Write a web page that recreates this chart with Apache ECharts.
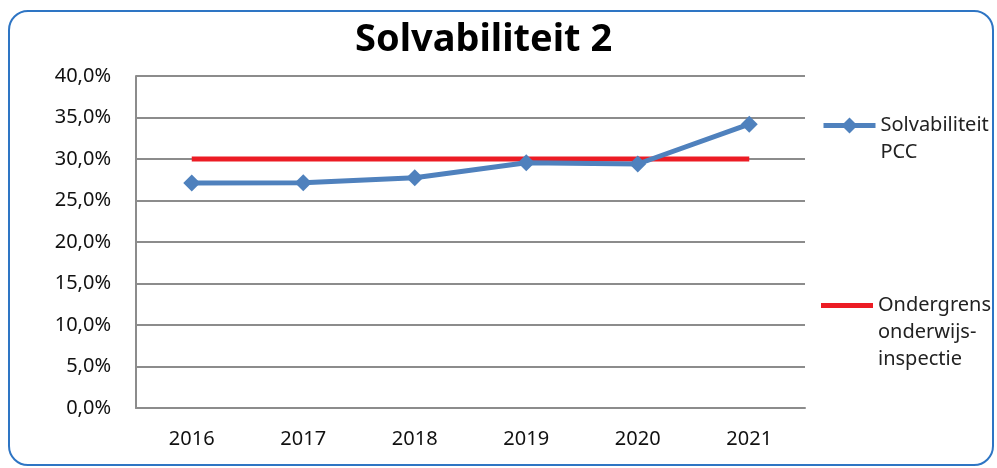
<!DOCTYPE html>
<html>
<head>
<meta charset="utf-8">
<script src="https://cdn.jsdelivr.net/npm/echarts@6/dist/echarts.min.js"></script>
<style>
  html, body { margin: 0; padding: 0; background: #fff; }
  #main { position: absolute; left: 0; top: 0; width: 997px; height: 468px; }
  #frame {
    position: absolute; left: 8px; top: 10px; width: 982px; height: 452px;
    border: 2px solid #2E75C4; border-radius: 20px; pointer-events: none;
  }
</style>
</head>
<body>
<div id="main"></div>
<div id="frame"></div>
<script>
// jaren op de x-as
const years = ['2016', '2017', '2018', '2019', '2020', '2021']
// solvabiliteit PCC (in %)
const solvabiliteit = [27.1, 27.15, 27.75, 29.55, 29.4, 34.2]
// ondergrens onderwijsinspectie (in %)
const ondergrens = [30, 30, 30, 30, 30, 30]
// labels van de legenda (regels)
const legendLabels = {
  'Solvabiliteit PCC': ['Solvabiliteit', 'PCC'],
  'Ondergrens onderwijsinspectie': ['Ondergrens', 'onderwijs-', 'inspectie']
}

const font = "'Noto Sans', sans-serif"
const myChart = echarts.init(document.getElementById('main'))

// lege regels ervoor zodat de eerste regel naast het icoon staat
const legendFormatter = name => {
  const lines = legendLabels[name]
  return new Array(lines.length - 1).fill('').concat(lines).join('\n')
}

const legendBase = {
  orient: 'vertical',
  left: 816,
  itemWidth: 52,
  itemGap: 4,
  formatter: legendFormatter,
  textStyle: { fontFamily: font, fontSize: 20, color: '#222', lineHeight: 27 }
}

const option = {
  animation: false,
  title: {
    text: 'Solvabiliteit 2',
    left: 350,
    top: 16,
    textStyle: { fontFamily: font, fontSize: 38, fontWeight: 'bold', color: '#000' }
  },
  legend: [
    Object.assign({}, legendBase, {
      top: 124 - 44,
      itemHeight: 20,
      data: ['Solvabiliteit PCC'],
      lineStyle: { width: 5 }
    }),
    Object.assign({}, legendBase, {
      top: 305 - 72,
      itemHeight: 5,
      data: [{ name: 'Ondergrens onderwijsinspectie', icon: 'rect' }]
    })
  ],
  grid: { left: 136, right: 192, top: 76, bottom: 60 },
  xAxis: {
    type: 'category',
    data: years,
    boundaryGap: true,
    axisLine: { lineStyle: { color: '#8c8c8c', width: 2 } },
    axisTick: { show: false },
    axisLabel: { fontFamily: font, fontSize: 20, color: '#111', margin: 21 }
  },
  yAxis: {
    type: 'value',
    min: 0,
    max: 40,
    interval: 5,
    axisLine: { show: true, lineStyle: { color: '#8c8c8c', width: 2 } },
    axisTick: { show: false },
    splitLine: { lineStyle: { color: '#8c8c8c', width: 2 } },
    axisLabel: {
      fontFamily: font,
      fontSize: 20,
      color: '#111',
      margin: 25,
      formatter: v => v.toFixed(1).replace('.', ',') + '%'
    }
  },
  series: [
    {
      name: 'Solvabiliteit PCC',
      type: 'line',
      data: solvabiliteit,
      symbol: 'diamond',
      symbolSize: 17,
      lineStyle: { color: '#4F81BD', width: 5 },
      itemStyle: { color: '#4F81BD' },
      z: 3
    },
    {
      name: 'Ondergrens onderwijsinspectie',
      type: 'line',
      data: ondergrens,
      symbol: 'none',
      lineStyle: { color: '#EC1C24', width: 5 },
      itemStyle: { color: '#EC1C24' },
      z: 2
    }
  ]
}

option && myChart.setOption(option)
</script>
</body>
</html>
